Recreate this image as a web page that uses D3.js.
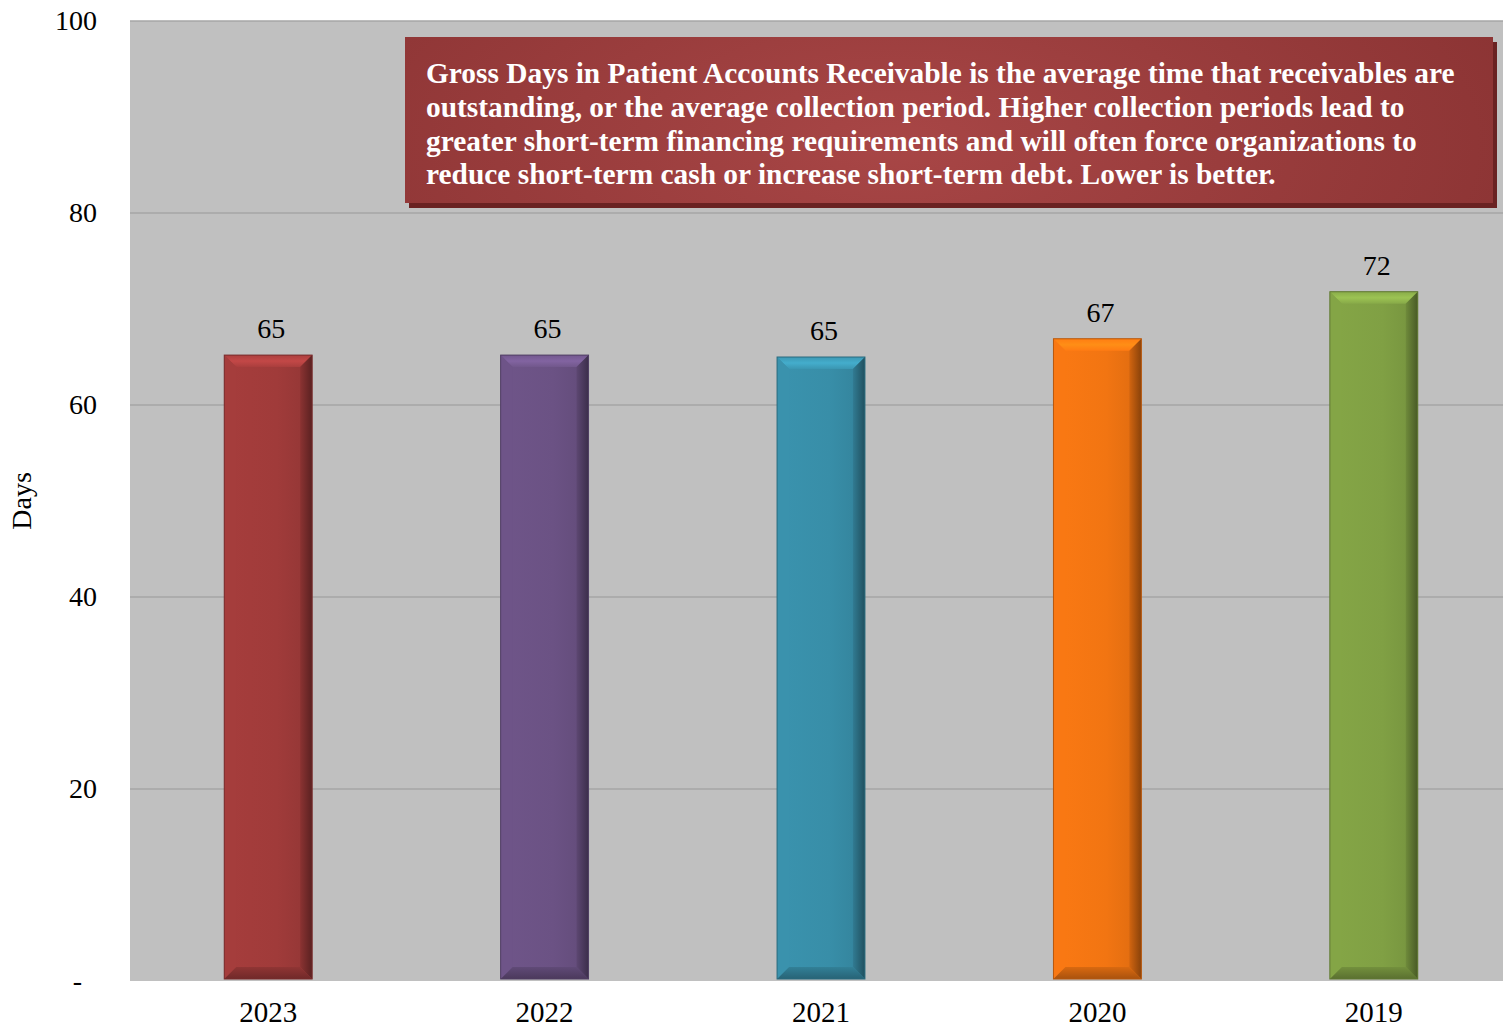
<!DOCTYPE html>
<html>
<head>
<meta charset="utf-8">
<script src="https://cdn.jsdelivr.net/npm/d3@7"></script>
<style>
  html, body { margin: 0; padding: 0; background: #ffffff; }
  svg { display: block; }
</style>
</head>
<body>
<svg id="chart" width="1503" height="1028"></svg>
<script>
// Fiscal years, newest first, and gross days in patient accounts receivable
const years = ["2023", "2022", "2021", "2020", "2019"];
const days = [65.2, 65.2, 65.0, 66.9, 71.8];
const barColors = ["#a03b3a", "#6b5284", "#388ea8", "#f27512", "#80a044"];
const yTicks = [0, 20, 40, 60, 80, 100];
const noteLines = [
  "Gross Days in Patient Accounts Receivable is the average time that receivables are",
  "outstanding, or the average collection period. Higher collection periods lead to",
  "greater short-term financing requirements and will often force organizations to",
  "reduce short-term cash or increase short-term debt. Lower is better."
];

const serif = "'Liberation Serif', 'Times New Roman', serif";
const svg = d3.select("#chart");
const W = 1503, H = 1028;
const x0 = 130, x1 = W;           // visible plot area
const y0 = 981, y1 = 21;

// category bands run slightly past the right edge of the page
const x = d3.scaleBand().domain(years).range([x0, 1512]).paddingInner(0.682).paddingOuter(0.341);
const y = d3.scaleLinear().domain([0, 100]).range([y0, y1]);

const defs = svg.append("defs");

// plot background
svg.append("rect")
  .attr("x", x0).attr("y", y1)
  .attr("width", x1 - x0).attr("height", y0 - y1)
  .attr("fill", "#c0c0c0");

// horizontal gridlines
svg.append("g")
  .selectAll("line")
  .data(yTicks.filter(t => t > 0))
  .join("line")
  .attr("x1", x0).attr("x2", x1)
  .attr("y1", d => y(d)).attr("y2", d => y(d))
  .attr("stroke", "#a6a6a6").attr("stroke-width", 1.5);

// y axis
const yAxis = d3.axisLeft(y)
  .tickValues(yTicks)
  .tickSize(0)
  .tickPadding(33)
  .tickFormat(d => d === 0 ? "-" : d);
svg.append("g")
  .attr("transform", `translate(${x0},0)`)
  .call(yAxis)
  .call(g => g.select(".domain").remove())
  .selectAll("text")
  .attr("font-family", serif)
  .attr("font-size", 28)
  .attr("fill", "#000")
  .attr("dx", d => d === 0 ? -15 : 0);

// x axis
const xAxis = d3.axisBottom(x).tickSize(0).tickPadding(20);
svg.append("g")
  .attr("transform", `translate(0,${y0})`)
  .call(xAxis)
  .call(g => g.select(".domain").remove())
  .selectAll("text")
  .attr("font-family", serif)
  .attr("font-size", 29)
  .attr("fill", "#000");

// axis title
svg.append("text")
  .attr("transform", `translate(31,${(y0 + y1) / 2}) rotate(-90)`)
  .attr("text-anchor", "middle")
  .attr("font-family", serif)
  .attr("font-size", 28)
  .attr("fill", "#000")
  .text("Days");

// bevelled bars
const bev = 12;
const bars = svg.append("g");
years.forEach((yr, i) => {
  const c = d3.color(barColors[i]);
  const L = x(yr), R = L + x.bandwidth();
  const T = y(days[i]), B = y(0) - 2;
  const g = bars.append("g");
  const face = (pts, fill) => g.append("polygon")
    .attr("points", pts.map(p => p.join(",")).join(" "))
    .attr("fill", fill);
  // front face with a soft horizontal shading
  const gid = "face" + i;
  const lg = defs.append("linearGradient").attr("id", gid).attr("x1", 0).attr("x2", 1).attr("y1", 0).attr("y2", 0);
  lg.append("stop").attr("offset", 0).attr("stop-color", c.brighter(0.1));
  lg.append("stop").attr("offset", 0.6).attr("stop-color", c);
  lg.append("stop").attr("offset", 1).attr("stop-color", c.darker(0.25));
  g.append("rect").attr("x", L).attr("y", T).attr("width", R - L).attr("height", B - T).attr("fill", `url(#${gid})`);
  // top bevel
  const tg = "top" + i;
  const tgr = defs.append("linearGradient").attr("id", tg).attr("x1", 0).attr("x2", 0).attr("y1", 0).attr("y2", 1);
  tgr.append("stop").attr("offset", 0).attr("stop-color", c.brighter(0.2));
  tgr.append("stop").attr("offset", 0.5).attr("stop-color", c.brighter(0.55));
  tgr.append("stop").attr("offset", 1).attr("stop-color", c.brighter(0.15));
  face([[L, T], [R, T], [R - bev, T + bev], [L + bev, T + bev]], `url(#${tg})`);
  // left bevel
  face([[L, T], [L + bev, T + bev], [L + bev, B - bev], [L, B]], c.brighter(0.08));
  // right bevel
  const rg = "right" + i;
  const rgr = defs.append("linearGradient").attr("id", rg).attr("x1", 0).attr("x2", 1).attr("y1", 0).attr("y2", 0);
  rgr.append("stop").attr("offset", 0).attr("stop-color", c.darker(0.4));
  rgr.append("stop").attr("offset", 1).attr("stop-color", c.darker(1.6));
  face([[R, T], [R, B], [R - bev, B - bev], [R - bev, T + bev]], `url(#${rg})`);
  // bottom bevel
  const bg = "bottom" + i;
  const bgr = defs.append("linearGradient").attr("id", bg).attr("x1", 0).attr("x2", 0).attr("y1", 0).attr("y2", 1);
  bgr.append("stop").attr("offset", 0).attr("stop-color", c.darker(0.3));
  bgr.append("stop").attr("offset", 1).attr("stop-color", c.darker(1.0));
  face([[L, B], [R, B], [R - bev, B - bev], [L + bev, B - bev]], `url(#${bg})`);
  g.append("rect").attr("x", L).attr("y", T).attr("width", R - L).attr("height", B - T)
    .attr("fill", "none").attr("stroke", c.darker(0.8)).attr("stroke-width", 1);
});

// value labels
svg.append("g")
  .selectAll("text")
  .data(years)
  .join("text")
  .attr("x", d => x(d) + x.bandwidth() / 2 + 3)
  .attr("y", (d, i) => y(days[i]) - 17)
  .attr("text-anchor", "middle")
  .attr("font-family", serif)
  .attr("font-size", 28)
  .attr("fill", "#000")
  .text((d, i) => d3.format(".0f")(days[i]));

// explanatory note box
const bx = 405, by = 37, bw = 1088, bh = 166;
const ng = defs.append("radialGradient").attr("id", "noteFill")
  .attr("cx", 0.45).attr("cy", 0.65).attr("r", 0.6)
  .attr("gradientTransform", "translate(0.45,0.65) scale(1,3) translate(-0.45,-0.65)");
ng.append("stop").attr("offset", 0).attr("stop-color", "#a84646");
ng.append("stop").attr("offset", 1).attr("stop-color", "#8c3434");
svg.append("rect").attr("x", bx + 4).attr("y", by + 5).attr("width", bw).attr("height", bh).attr("fill", "#6a2222");
svg.append("rect").attr("x", bx).attr("y", by).attr("width", bw).attr("height", bh).attr("fill", "url(#noteFill)");
svg.append("g")
  .selectAll("text")
  .data(noteLines)
  .join("text")
  .attr("x", bx + 21)
  .attr("y", (d, i) => 83 + i * 33.8)
  .attr("font-family", serif)
  .attr("font-weight", "bold")
  .attr("font-size", 29.4)
  .attr("fill", "#ffffff")
  .text(d => d);
</script>
</body>
</html>
